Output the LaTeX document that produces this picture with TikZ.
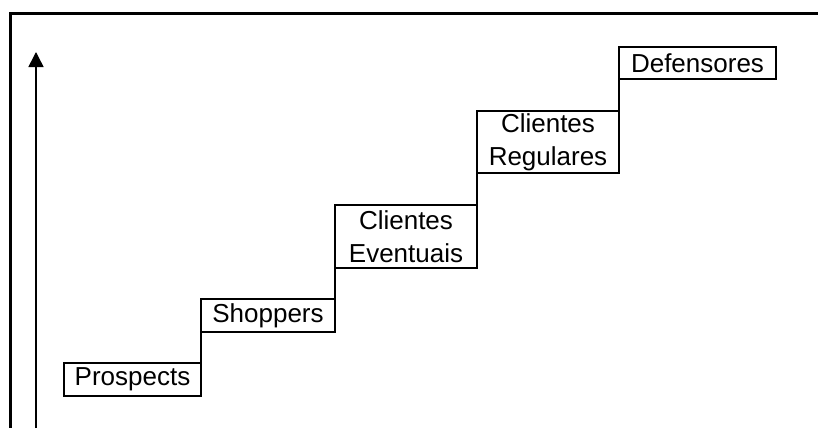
\documentclass[tikz,border=0pt]{standalone}
\usepackage{fontspec}
\setmainfont{Liberation Sans}
\usetikzlibrary{arrows.meta}
\begin{document}
\begin{tikzpicture}[x=1pt,y=-1pt,
  stepbox/.style={draw=black,line width=1.5pt,inner sep=0pt,outer sep=0pt,align=center,
    font=\fontsize{26}{33}\selectfont},
  stair/.style={draw=black,line width=1.5pt},
  frame/.style={draw=black,line width=3pt}]
\useasboundingbox (0,0) rectangle (818,428);
\fill[white] (0,0) rectangle (818,428);
% frame
\coordinate (ftr) at (818,13.5);
\coordinate (ftl) at (10,13.5);
\coordinate (fbl) at (10,428);
\draw[frame] (ftr) -- (ftl) -- (fbl);
% axis arrow
\coordinate (abot) at (36,428);
\coordinate (atop) at (36,52);
\draw[line width=1.5pt,-{Triangle[width=15pt,length=15pt]}] (abot) -- (atop);
% boxes
\node[stepbox,minimum width=137pt,minimum height=33pt] (p) at (132.5,379.5) {Prospects};
\node[stepbox,minimum width=134pt,minimum height=33pt] (s) at (268,315.5) {Shoppers};
\node[stepbox,minimum width=142pt,minimum height=63pt] (e) at (406,236.5) {Clientes\\Eventuais};
\node[stepbox,minimum width=142pt,minimum height=62pt] (r) at (548,142) {Clientes\\Regulares};
\node[stepbox,minimum width=157pt,minimum height=32pt] (d) at (697.5,63) {Defensores};
% stair risers
\draw[stair] (p.north east) -- (s.south west);
\draw[stair] (s.north east) -- (e.south west);
\draw[stair] (e.north east) -- (r.south west);
\draw[stair] (r.north east) -- (d.south west);
\end{tikzpicture}
\end{document}
